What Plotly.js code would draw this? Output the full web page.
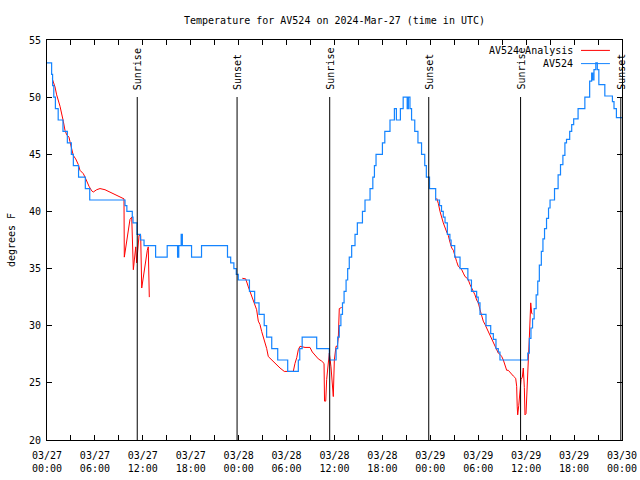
<!DOCTYPE html>
<html>
<head>
<meta charset="utf-8">
<script src="https://cdn.plot.ly/plotly-3.0.1.min.js"></script>
<style>html,body{margin:0;padding:0;background:#fff;}#chart{width:640px;height:480px;}</style>
</head>
<body>
<div id="chart"></div>
<script>
// Hours after 2024-03-27 00:00 UTC
const startUTC = Date.UTC(2024, 2, 27);

// AV524 observations (blue)
const obsHours = [0.0,0.58,0.7,0.85,1.05,1.4,2.0,2.55,3.05,3.3,3.95,4.8,5.35,9.77,10.0,10.68,10.77,11.27,11.7,12.15,13.6,15.05,16.35,16.5,16.8,16.95,18.1,19.35,22.6,23.0,23.4,23.7,23.95,25.35,26.0,26.55,27.2,27.5,28.14,28.89,30.14,31.47,31.65,31.95,33.77,35.35,36.2,36.4,36.6,36.8,37.0,37.2,37.45,37.65,37.85,38.15,38.57,38.86,39.5,39.82,40.45,40.8,41.0,41.2,42.0,42.3,42.95,43.5,43.75,44.25,44.6,45.1,45.25,45.45,45.65,46.05,46.45,46.9,47.3,47.5,47.9,48.67,49.15,49.4,49.62,49.84,50.13,50.45,50.6,51.05,51.72,52.7,53.15,53.8,54.0,54.22,54.97,55.56,55.89,56.22,56.51,56.72,60.2,60.4,60.6,60.8,61.0,61.25,61.45,61.65,61.9,62.1,62.3,62.55,62.8,62.99,63.55,64.0,64.3,64.6,64.85,65.05,65.45,65.7,65.95,66.5,67.35,67.95,68.2,68.33,68.49,68.72,68.91,69.1,69.85,70.8,71.0,71.3,72.0];
const obsTemps = [53,52,51,50,49,48,47,46,45,44,43,42,41,40.5,40,39.5,39,38,37.5,37,36,37,36,37,38,37,36,37,36,35.5,35,34.5,34,33,32,31,30,29,28,27,26,27,28,29,28,27,28,29,30,31,32,33,34,35,36,37,38,39,40,41,42,43,44,45,46,47,48,49,48,49,50,49,50,49,48,47,46,45,44,43,42,41,40.5,40,39.5,39,38,37.5,37,36,35,34,33,32.5,32,31,30,29.3,28.8,28,27.7,27,27.6,28.9,29.8,30.6,31.5,32.7,33.9,35.3,36.5,37.6,38.5,39.4,40.3,41,42,43.2,44.1,44.9,46,46.3,47,47.6,48.1,49,50,51.4,52.1,51.5,52.4,53,52.4,51.1,50.1,49.6,49,48.2,48.2];

// AV524 Analysis (red); null = gap
const anaHours = [0.66,1.0,1.21,1.63,2.04,2.25,2.47,2.75,2.88,3.09,3.29,3.59,3.92,4.13,4.55,4.76,4.97,5.26,5.6,5.8,6.22,6.64,7.26,7.89,8.51,9.14,9.64,9.68,9.89,10.18,10.39,10.61,10.81,11.11,11.23,11.52,11.73,11.86,12.06,12.27,12.56,12.68,12.81,
  13.0,
  24.46,24.88,25.21,25.42,25.63,26.04,26.25,26.46,26.67,26.88,27.08,27.3,27.51,27.71,28.14,28.55,29.18,29.71,30.84,31.05,31.27,31.47,31.68,32.31,32.93,33.22,33.56,33.97,34.4,34.69,34.75,34.9,35.02,35.22,35.35,35.56,35.77,35.85,35.98,36.19,36.35,36.48,36.6,36.9,
  37.5,
  48.8,49.0,49.21,49.42,49.62,50.05,50.25,50.46,50.68,50.88,51.09,51.3,51.5,51.72,51.93,52.13,52.34,52.55,52.76,52.97,53.18,53.38,53.59,53.8,54.01,54.22,54.43,54.63,54.85,55.06,55.26,55.47,55.68,55.89,56.1,56.31,56.51,56.72,56.94,57.14,57.35,57.56,57.76,57.98,58.19,58.39,58.69,58.81,58.88,58.94,59.07,59.15,59.23,59.36,59.52,59.64,59.77,59.85,59.98,60.07,60.14,60.27,60.4,60.48,60.57,60.69,60.82];
const anaTemps = [51.6,50.9,50.2,49.2,47.9,47.1,46.7,46.5,46.1,45.5,44.9,44.6,44.1,43.6,43.3,43.0,42.6,42.2,41.8,41.7,41.9,42.0,41.9,41.7,41.5,41.3,41.1,36.0,36.9,38.4,39.3,39.5,34.9,36.9,35.5,37.9,37.9,33.3,34.2,35.5,36.6,36.9,32.5,
  null,
  34.15,34.1,33.4,33.0,32.5,31.8,31.4,30.4,30.1,29.5,29.0,28.6,28.0,27.3,27.0,26.7,26.3,26.0,26.0,26.7,27.2,27.9,28.2,28.1,28.1,27.7,27.4,27.1,26.9,26.7,23.4,23.4,25.3,27.0,27.6,26.4,23.8,23.8,27.0,28.2,28.2,29.0,31.5,31.6,
  null,
  41.15,40.7,40.0,39.4,39.0,38.2,37.9,37.3,36.8,36.6,36.0,35.6,35.2,35.0,34.9,34.6,34.3,34.2,34.0,33.6,33.3,33.0,32.7,32.25,32.0,31.4,30.8,30.4,30.1,29.8,29.5,29.2,28.9,28.6,28.3,28.0,27.6,27.5,27.3,27.0,26.6,26.1,26.1,25.9,25.7,25.6,25.4,24.7,22.9,22.2,23.0,23.8,24.4,25.3,25.5,26.3,24.6,22.2,22.3,24.1,25.8,27.0,29.0,30.8,32.0,31.1,31.0];

// Sunrise / sunset events
const eventHours = [11.3, 23.8, 35.4, 47.8, 59.3, 71.85];
const eventLabels = ["Sunrise", "Sunset", "Sunrise", "Sunset", "Sunrise", "Sunset"];

const xTickLabelFormat = "%m/%d<br>%H:%M";

function toDate(h) {
  return new Date(startUTC + h * 3600000).toISOString().replace("T", " ").slice(0, 19);
}

const FONT = "DejaVu Sans Mono, Liberation Mono, monospace";
const RED = "#ff0000";
const BLUE = "#1484ff";

const traces = [
  {
    x: anaHours.map(toDate), y: anaTemps, name: "AV524 Analysis",
    type: "scatter", mode: "lines", connectgaps: false,
    line: {color: RED, width: 1}
  },
  {
    x: obsHours.map(toDate), y: obsTemps, name: "AV524",
    type: "scatter", mode: "lines",
    line: {color: BLUE, width: 1.2, shape: "hv"}
  }
];

const shapes = [];
const annotations = [];
eventHours.forEach((h, i) => {
  shapes.push({type: "line", xref: "x", yref: "paper", x0: toDate(h), x1: toDate(h), y0: 0, y1: 0.8575,
    line: {color: "black", width: 1}});
  annotations.push({text: eventLabels[i], xref: "x", yref: "paper", x: toDate(h), y: 0.87,
    xanchor: "center", yanchor: "bottom", textangle: -90, showarrow: false,
    font: {family: FONT, size: 10, color: "black"}});
});

// legend drawn gnuplot-style (text then sample line)
const legendRows = [{label: "AV524 Analysis", color: RED, y: 0.974}, {label: "AV524", color: BLUE, y: 0.941}];
legendRows.forEach(r => {
  annotations.push({text: r.label, xref: "paper", yref: "paper", x: 0.918, y: r.y,
    xanchor: "right", yanchor: "middle", showarrow: false,
    font: {family: FONT, size: 10, color: "black"}});
  shapes.push({type: "line", xref: "paper", yref: "paper", x0: 0.9287, x1: 0.979, y0: r.y, y1: r.y,
    line: {color: r.color, width: 1}});
});

const layout = {
  width: 640, height: 480,
  margin: {l: 47, r: 18, t: 40, b: 40},
  paper_bgcolor: "white", plot_bgcolor: "white",
  showlegend: false,
  font: {family: FONT, size: 10, color: "black"},
  title: {text: "Temperature for AV524 on 2024-Mar-27 (time in UTC)", x: 0.5, xref: "paper",
    y: 1 - 20 / 480, yref: "container", yanchor: "middle", font: {family: FONT, size: 10, color: "black"}},
  xaxis: {
    type: "date", range: [toDate(0), toDate(72)],
    tick0: toDate(0), dtick: 6 * 3600000, tickformat: xTickLabelFormat,
    ticks: "inside", ticklen: 5, tickcolor: "black", tickwidth: 1,
    ticklabelstandoff: 6,
    minor: {dtick: 3 * 3600000, ticks: "inside", ticklen: 5, tickcolor: "black", showgrid: false},
    showline: true, linecolor: "black", linewidth: 1, mirror: "ticks",
    showgrid: false, zeroline: false,
    tickfont: {family: FONT, size: 10, color: "black"}
  },
  yaxis: {
    range: [20, 55], dtick: 5, tick0: 20,
    ticks: "inside", ticklen: 5, tickcolor: "black",
    ticklabelstandoff: 3,
    showline: true, linecolor: "black", linewidth: 1, mirror: "ticks",
    showgrid: false, zeroline: false,
    tickfont: {family: FONT, size: 10, color: "black"},
    title: {text: "degrees F", font: {family: FONT, size: 10, color: "black"}, standoff: 11}
  },
  shapes: shapes,
  annotations: annotations
};

Plotly.newPlot("chart", traces, layout, {displayModeBar: false, staticPlot: true});
</script>
</body>
</html>
